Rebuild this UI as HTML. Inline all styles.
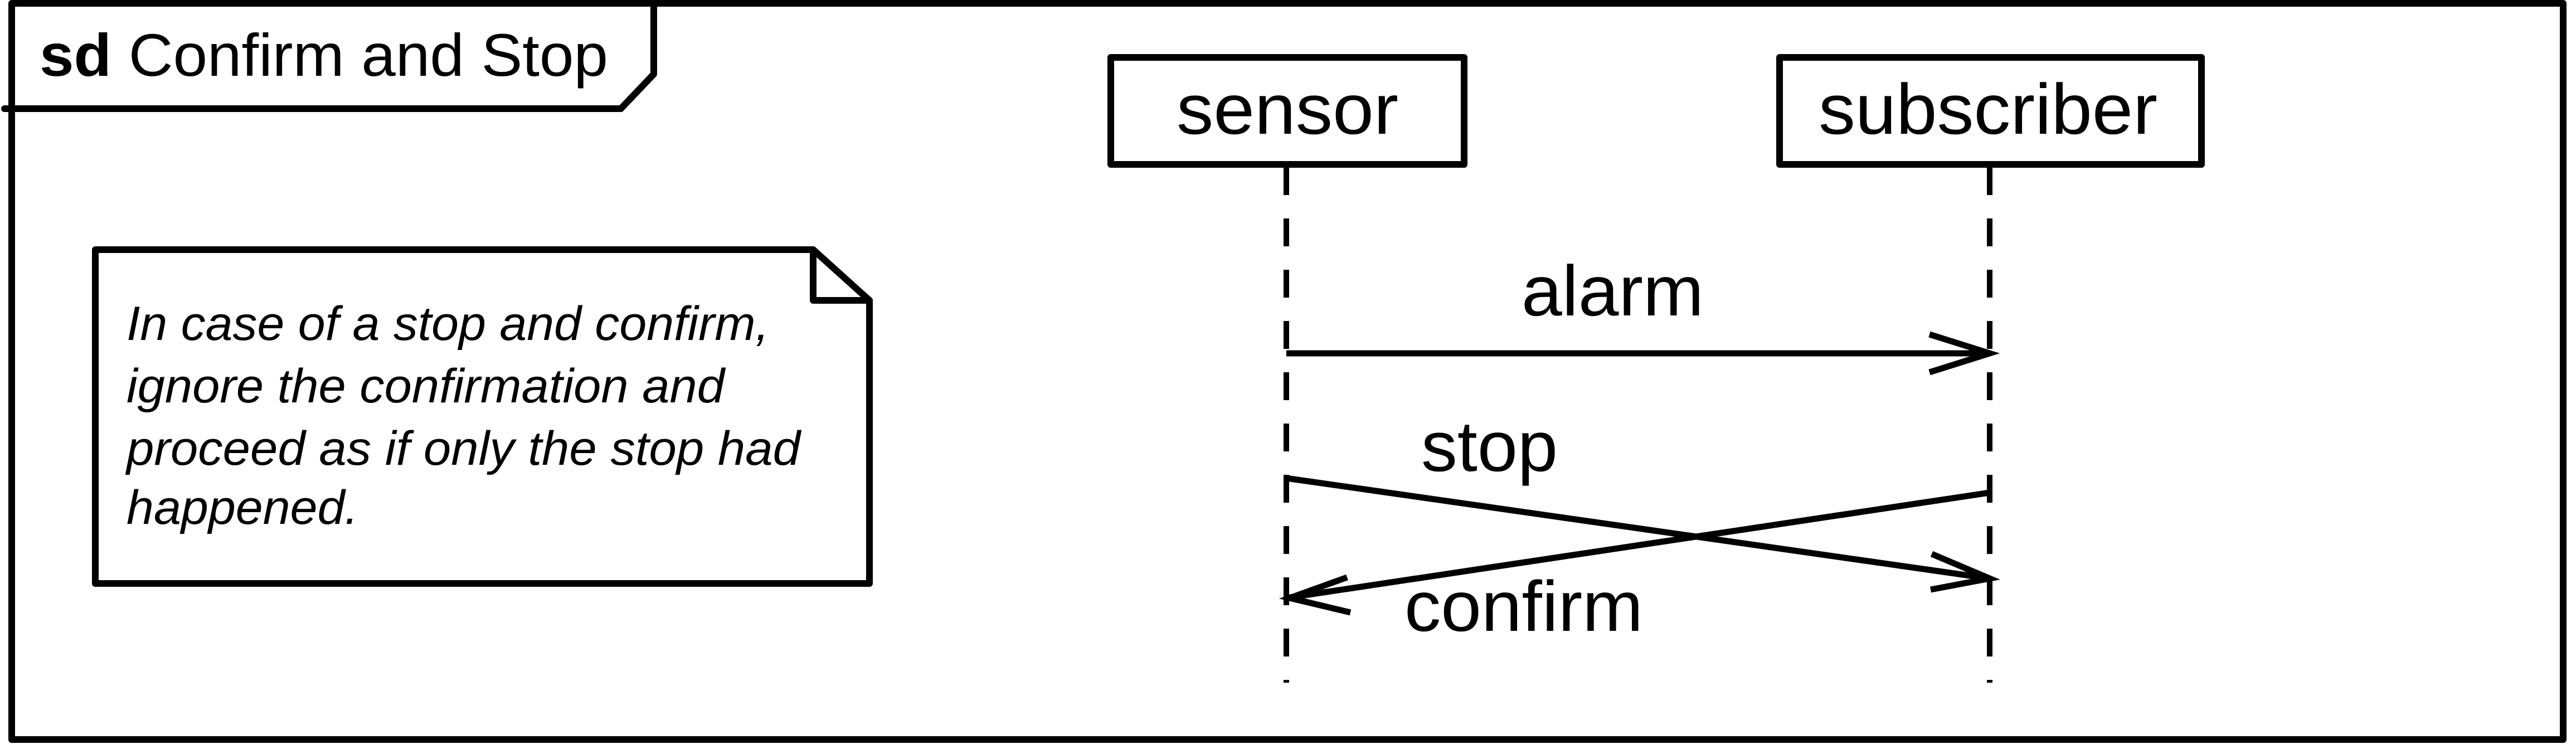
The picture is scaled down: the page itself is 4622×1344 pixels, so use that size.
<!DOCTYPE html>
<html><head><meta charset="utf-8"><style>
html,body{margin:0;padding:0;background:#fff;}
svg{display:block;}
text{font-family:"Liberation Sans",sans-serif;fill:#000;}
</style></head><body>
<svg width="4622" height="1344" viewBox="0 0 4622 1344" xmlns="http://www.w3.org/2000/svg">
<g fill="none" stroke="#000" stroke-width="12" stroke-linejoin="round" stroke-linecap="round">
<rect x="21" y="6" width="4578" height="1321" fill="#fff"/>
<polyline points="8,195 1114,195 1173,133 1173,6"/>
<polygon points="171,448 1459,448 1560,539 1560,1047 171,1047" fill="#fff"/>
<polyline points="1459,448 1459,539 1560,539"/>
<rect x="1993" y="103" width="634" height="192" fill="#fff"/>
<rect x="3193" y="103" width="757" height="192" fill="#fff"/>
</g>
<g stroke="#000" stroke-width="10" fill="none" stroke-dasharray="50 42">
<line x1="2308" y1="300" x2="2308" y2="1225"/>
<line x1="3570" y1="300" x2="3570" y2="1225"/>
</g>
<g stroke="#000" stroke-width="11" fill="none">
<line x1="2308" y1="634" x2="3570" y2="634"/>
<polyline points="3462,600 3570,634 3462,668"/>
<line x1="2308" y1="858" x2="3570" y2="1038"/>
<polyline points="3466,994 3570,1038 3464,1058"/>
<line x1="3570" y1="884" x2="2308" y2="1073"/>
<polyline points="2417,1036 2314,1073 2423,1099"/>
</g>
<text x="71" y="136" font-size="108" textLength="1020" lengthAdjust="spacingAndGlyphs"><tspan font-weight="bold">sd</tspan> Confirm and Stop</text>
<g font-size="86" font-style="italic">
<text x="227" y="610" textLength="1153" lengthAdjust="spacingAndGlyphs">In case of a stop and confirm,</text>
<text x="227" y="722" textLength="1073" lengthAdjust="spacingAndGlyphs">ignore the confirmation and</text>
<text x="227" y="834" textLength="1209" lengthAdjust="spacingAndGlyphs">proceed as if only the stop had</text>
<text x="227" y="940" textLength="416" lengthAdjust="spacingAndGlyphs">happened.</text>
</g>
<g font-size="128">
<text x="2111" y="240" textLength="398" lengthAdjust="spacingAndGlyphs">sensor</text>
<text x="3263" y="240" textLength="608" lengthAdjust="spacingAndGlyphs">subscriber</text>
<text x="2730" y="566" textLength="327" lengthAdjust="spacingAndGlyphs">alarm</text>
<text x="2550" y="845" textLength="245" lengthAdjust="spacingAndGlyphs">stop</text>
<text x="2520" y="1132" textLength="428" lengthAdjust="spacingAndGlyphs">confirm</text>
</g>
</svg>
</body></html>
